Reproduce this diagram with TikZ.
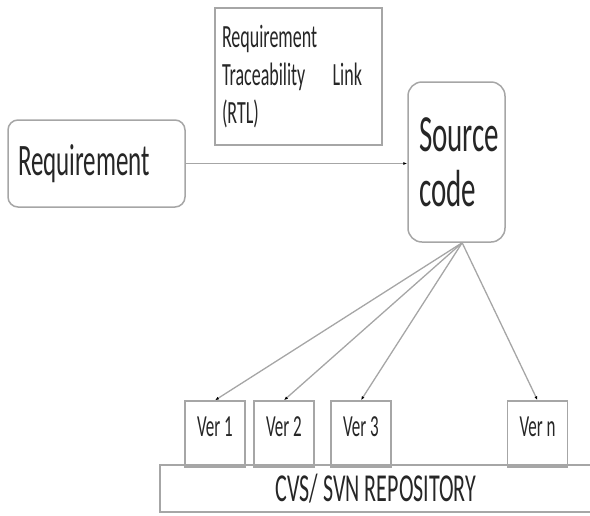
\documentclass[tikz,border=0pt]{standalone}
\usepackage{fontspec}
\setmainfont{Carlito}
\usepackage{graphicx}
\usetikzlibrary{arrows.meta}
\newcommand{\tall}[1]{\scalebox{1}[1.8]{#1}}

\begin{document}
\begin{tikzpicture}[x=1pt,y=-1pt,
  box/.style={draw=gray!70,line width=1.5pt,text=black!85,inner sep=0pt},
  link/.style={draw=gray!70,line width=1.3pt,-{Latex[length=4pt,width=3pt,color=black]}}]
\useasboundingbox (0,0) rectangle (590,515);
\node[box,rounded corners=10pt,minimum width=177,minimum height=87,text width=157,align=left,font=\fontsize{25}{30}\selectfont] (req) at (96.5,163.5) {\tall{Requirement}};
\node[box,minimum width=167,minimum height=137,text width=153,align=left,font=\fontsize{18}{38}\selectfont] (rtl) at (298.5,76.5) {\tall{Requirement}\\ \leavevmode\hbox to 140pt{\tall{Traceability}\hfil\tall{Link}}\\ \tall{(RTL)}};
\node[box,rounded corners=14pt,minimum width=97,minimum height=160,text width=75,align=left,font=\fontsize{29}{55}\selectfont] (src) at (456.5,162) {\tall{Source}\\ \tall{code}};
\node[box,minimum width=432,minimum height=47,font=\fontsize{22}{26}\selectfont] (repo) at (376,488.5) {\tall{CVS/ SVN REPOSITORY}};
\foreach \x/\n/\t in {215/v1/Ver 1,284/v2/Ver 2,361/v3/Ver 3,537.5/vn/Ver n}
  \node[box,minimum width=60,minimum height=66,text height=24,text depth=20,font=\fontsize{17}{20}\selectfont] (\n) at (\x,434) {\tall{\t}};
\draw[link] (req.east) -- (req.east -| src.west);
\foreach \n in {v1,v2,v3,vn}
  \draw[link] (src.-86) -- (\n.north);
\end{tikzpicture}
\end{document}
